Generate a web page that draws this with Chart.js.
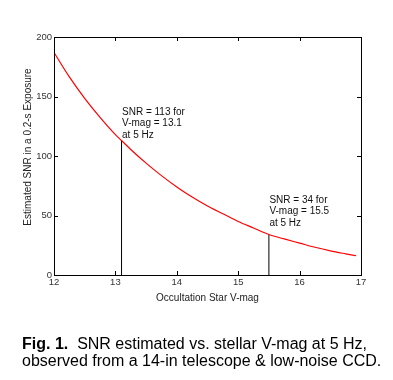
<!DOCTYPE html>
<html><head><meta charset="utf-8">
<script src="https://cdn.jsdelivr.net/npm/chart.js@4/dist/chart.umd.min.js"></script>
<style>
html,body{margin:0;padding:0;background:#fff;}
#wrap{position:relative;width:393px;height:380px;}
canvas{position:absolute;left:0;top:0;}
#cap{position:absolute;left:22px;top:336px;font-family:"Liberation Sans",Arial,sans-serif;font-size:16px;line-height:16.5px;color:#000;white-space:nowrap;}
</style></head>
<body><div id="wrap"><canvas id="c" width="393" height="380"></canvas>
<div id="cap"><b>Fig. 1.</b>&nbsp; SNR estimated vs. stellar V-mag at 5 Hz,<br>observed from a 14-in telescope &amp; low-noise CCD.</div></div>
<script>
// V-magnitude samples along the curve and estimated SNR
const vmag = [12.0, 12.25, 12.5, 12.75, 13.0, 13.1, 13.25, 13.5, 13.75, 14.0, 14.25, 14.5, 14.75, 15.0, 15.25, 15.5, 15.75, 16.0, 16.25, 16.5, 16.75, 16.92];
const snr  = [187, 166.5, 148.5, 132.5, 118, 113, 105.5, 94, 83.5, 74, 65.5, 58, 51.5, 45, 39.5, 34, 30.3, 26.8, 23.3, 20.3, 17.8, 16.2];
// marker lines
const markerMag = [13.1, 15.5];
const markerSNR = [113, 34];
// annotation anchors (data units) and texts
const noteMag = [13.1, 15.5];
const noteSNR = [137, 63];
const noteText = [["SNR = 113 for", "V-mag = 13.1", "at 5 Hz"], ["SNR = 34 for", "V-mag = 15.5", "at 5 Hz"]];
// ticks
const xTicks = [12, 13, 14, 15, 16, 17];
const yTicks = [0, 50, 100, 150, 200];
const xTitle = "Occultation Star V-mag";
const yTitle = "Estimated SNR in a 0.2-s Exposure";

const FONT = '"Liberation Sans", Arial, sans-serif';

const datasets = [{
  data: vmag.map((v, i) => ({x: v, y: snr[i]})),
  borderColor: '#ff0000', borderWidth: 1.2, pointRadius: 0,
  cubicInterpolationMode: 'monotone', fill: false
}];
markerMag.forEach((m, i) => datasets.push({
  data: [{x: m, y: 0}, {x: m, y: markerSNR[i]}],
  borderColor: '#000', borderWidth: 1, pointRadius: 0, fill: false
}));

const framePlugin = {
  id: 'frame',
  afterDraw(chart) {
    const {ctx, chartArea: a, scales: {x, y}} = chart;
    ctx.save();
    ctx.strokeStyle = '#000'; ctx.lineWidth = 1;
    ctx.strokeRect(Math.round(a.left) + 0.5, Math.round(a.top) + 0.5, Math.round(a.right - a.left), Math.round(a.bottom - a.top));
    ctx.beginPath();
    const L = 4;
    xTicks.forEach(t => {
      const px = Math.round(x.getPixelForValue(t)) + 0.5;
      ctx.moveTo(px, a.bottom); ctx.lineTo(px, a.bottom - L);
      ctx.moveTo(px, a.top); ctx.lineTo(px, a.top + L);
    });
    yTicks.forEach(t => {
      const py = Math.round(y.getPixelForValue(t)) + 0.5;
      ctx.moveTo(a.left, py); ctx.lineTo(a.left + L, py);
      ctx.moveTo(a.right, py); ctx.lineTo(a.right - L, py);
    });
    ctx.stroke();
    // annotations
    ctx.fillStyle = '#111';
    ctx.font = '10px ' + FONT;
    ctx.textAlign = 'left'; ctx.textBaseline = 'middle';
    noteText.forEach((lines, i) => {
      const px = x.getPixelForValue(noteMag[i]) + 0.5;
      const py = y.getPixelForValue(noteSNR[i]);
      lines.forEach((s, j) => ctx.fillText(s, px, py + j * 11.4));
    });
    // y title
    ctx.fillStyle = '#222';
    ctx.font = '10px ' + FONT;
    ctx.translate(28, (a.top + a.bottom) / 2 - 9);
    ctx.rotate(-Math.PI / 2);
    ctx.textAlign = 'center';
    ctx.fillText(yTitle, 0, 0);
    ctx.restore();
  }
};

new Chart(document.getElementById('c'), {
  type: 'line',
  data: {datasets},
  options: {
    responsive: false, animation: false, events: [],
    layout: {padding: {left: 0, top: 37, right: 32, bottom: 76}},
    plugins: {legend: {display: false}, tooltip: {enabled: false}},
    scales: {
      x: {
        type: 'linear', min: 12, max: 17,
        afterBuildTicks: s => { s.ticks = xTicks.map(v => ({value: v})); },
        afterFit: s => { s.height = 29; },
        grid: {display: false, drawTicks: false, tickLength: 0}, border: {display: false},
        ticks: {padding: 2, color: '#333', font: {family: FONT, size: 9.5}, maxRotation: 0},
        title: {display: true, text: xTitle, color: '#222', font: {family: FONT, size: 10}, padding: 0}
      },
      y: {
        type: 'linear', min: 0, max: 200,
        afterBuildTicks: s => { s.ticks = yTicks.map(v => ({value: v})); },
        afterFit: s => { s.width = 54; },
        grid: {display: false, drawTicks: false, tickLength: 0}, border: {display: false},
        ticks: {padding: 2, color: '#333', font: {family: FONT, size: 9.5}}
      }
    }
  },
  plugins: [framePlugin]
});
</script></body></html>
